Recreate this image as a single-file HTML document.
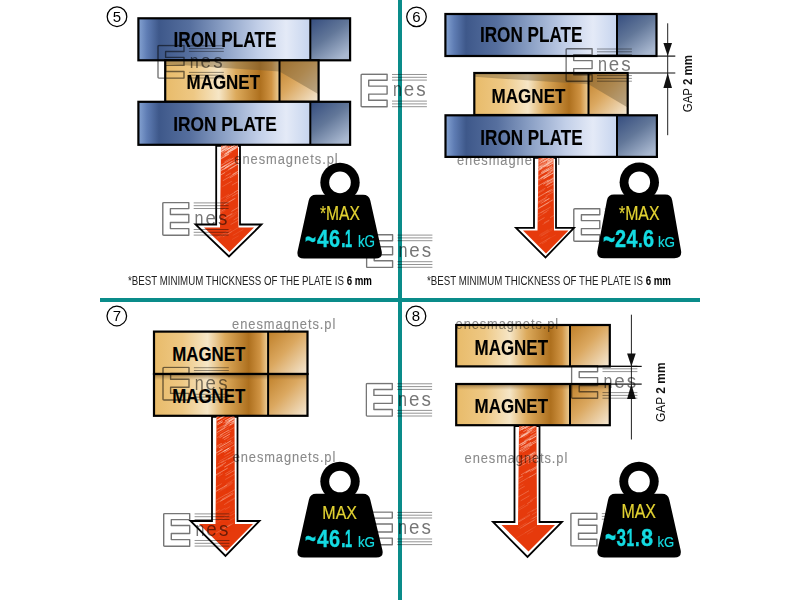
<!DOCTYPE html><html><head><meta charset="utf-8"><style>html,body{margin:0;padding:0;background:#fff;}svg{display:block;}</style></head><body>
<svg width="800" height="600" viewBox="0 0 800 600" font-family='"Liberation Sans", sans-serif'>
<defs>
<linearGradient id="ipL" x1="0" y1="0" x2="1" y2="0">
 <stop offset="0" stop-color="#85a3d2"/>
 <stop offset="0.05" stop-color="#5f7db4"/>
 <stop offset="0.12" stop-color="#3e588a"/>
 <stop offset="0.30" stop-color="#566f9e"/>
 <stop offset="0.50" stop-color="#8ca1c6"/>
 <stop offset="0.70" stop-color="#c2cfe8"/>
 <stop offset="0.86" stop-color="#e4eaf7"/>
 <stop offset="1" stop-color="#c6d4ee"/>
</linearGradient>
<linearGradient id="ipR" x1="0" y1="0" x2="0.7" y2="1">
 <stop offset="0" stop-color="#344c7e"/>
 <stop offset="0.5" stop-color="#627799"/>
 <stop offset="1" stop-color="#a9b8d0"/>
</linearGradient>
<linearGradient id="mgL" x1="0" y1="0" x2="1" y2="0">
 <stop offset="0" stop-color="#e8bb6a"/>
 <stop offset="0.25" stop-color="#eec884"/>
 <stop offset="0.47" stop-color="#f6e6c6"/>
 <stop offset="0.62" stop-color="#dcaa5c"/>
 <stop offset="0.83" stop-color="#ae701e"/>
 <stop offset="0.93" stop-color="#d09444"/>
 <stop offset="1" stop-color="#eed09a"/>
</linearGradient>
<linearGradient id="mgR" x1="0" y1="0" x2="1" y2="1">
 <stop offset="0" stop-color="#bf7f28"/>
 <stop offset="0.45" stop-color="#dba860"/>
 <stop offset="1" stop-color="#f5e9d6"/>
</linearGradient>
<linearGradient id="mgR2" x1="0" y1="0" x2="1" y2="1">
 <stop offset="0" stop-color="#a8792e"/>
 <stop offset="0.5" stop-color="#b89060"/>
 <stop offset="0.51" stop-color="#e2b878"/>
 <stop offset="1" stop-color="#f8ecd8"/>
</linearGradient>
<linearGradient id="mgTop" x1="0" y1="0" x2="0" y2="1">
 <stop offset="0" stop-color="#6a4a20" stop-opacity="0.6"/>
 <stop offset="1" stop-color="#7a5a30" stop-opacity="0"/>
</linearGradient>
<pattern id="hatch" patternUnits="userSpaceOnUse" width="6" height="6" patternTransform="rotate(-28)">
 <rect width="6" height="6" fill="#e23b12"/>
 <rect y="0" width="6" height="0.9" fill="#f7b8a0" opacity="0.55"/>
</pattern>
</defs>
<rect width="800" height="600" fill="#fff"/>
<g transform="translate(457.0,165) scale(0.86,1)" style="mix-blend-mode:multiply"><text x="0" y="0" font-size="15" fill="#8a8a8a" stroke="#8a8a8a" stroke-width="0.1" textLength="120.00" lengthAdjust="spacing">enesmagnets.pl</text></g>
<g transform="translate(232.1,329.4) scale(0.86,1)" style="mix-blend-mode:multiply"><text x="0" y="0" font-size="15" fill="#8a8a8a" stroke="#8a8a8a" stroke-width="0.1" textLength="120.00" lengthAdjust="spacing">enesmagnets.pl</text></g>
<rect x="138.4" y="18.3" width="171.9" height="42.0" fill="url(#ipL)"/>
<rect x="310.3" y="18.3" width="39.80000000000001" height="42.0" fill="url(#ipR)"/>
<rect x="138.4" y="18.3" width="211.70000000000002" height="42.0" fill="none" stroke="#000" stroke-width="2.2"/>
<line x1="310.3" y1="18.3" x2="310.3" y2="60.3" stroke="#000" stroke-width="2"/>
<rect x="165.2" y="60.3" width="114.30000000000001" height="41.5" fill="url(#mgL)"/>
<rect x="279.5" y="60.3" width="39.10000000000002" height="41.5" fill="url(#mgR)"/>
<polygon points="165.2,60.3 318.6,60.3 318.6,94.33 279.5,71.505 165.2,64.035" fill="#6e5a3a" opacity="0.42"/>
<rect x="165.2" y="60.3" width="153.40000000000003" height="41.5" fill="none" stroke="#000" stroke-width="2.2"/>
<line x1="279.5" y1="60.3" x2="279.5" y2="101.8" stroke="#000" stroke-width="2"/>
<rect x="138.4" y="101.8" width="171.9" height="43.000000000000014" fill="url(#ipL)"/>
<rect x="310.3" y="101.8" width="39.80000000000001" height="43.000000000000014" fill="url(#ipR)"/>
<rect x="138.4" y="101.8" width="211.70000000000002" height="43.000000000000014" fill="none" stroke="#000" stroke-width="2.2"/>
<line x1="310.3" y1="101.8" x2="310.3" y2="144.8" stroke="#000" stroke-width="2"/>
<text x="173.54" y="46.50" font-size="21.28" font-weight="bold" fill="#000" stroke="#000" stroke-width="0.12" textLength="102.92" lengthAdjust="spacingAndGlyphs">IRON PLATE</text>
<text x="186.52" y="89.32" font-size="20.75" font-weight="bold" fill="#000" stroke="#000" stroke-width="0.12" textLength="73.48" lengthAdjust="spacingAndGlyphs">MAGNET</text>
<text x="173.30" y="130.50" font-size="20.75" font-weight="bold" fill="#000" stroke="#000" stroke-width="0.12" textLength="103.42" lengthAdjust="spacingAndGlyphs">IRON PLATE</text>
<polygon points="216.2,145.8 216.2,224.5 195.5,224.5 229,256.5 261.5,224.5 240,224.5 240,145.8" fill="#fff" stroke="#000" stroke-width="1.8" stroke-linejoin="miter"/>
<clipPath id="ac1"><polygon points="221,145.8 220,227.5 204,227.5 229.5,252 254,227.5 238.5,227.5 238.0,145.8"/></clipPath>
<polygon points="221,145.8 220,227.5 204,227.5 229.5,252 254,227.5 238.5,227.5 238.0,145.8" fill="#e63a0c"/>
<g clip-path="url(#ac1)" stroke="#ffd8c8" stroke-linecap="round"><line x1="217.3" y1="158.8" x2="228.3" y2="152.4" stroke-width="0.77" opacity="0.31"/><line x1="216.3" y1="161.1" x2="225.8" y2="155.6" stroke-width="0.72" opacity="0.29"/><line x1="217.3" y1="148.8" x2="226.0" y2="143.7" stroke-width="0.56" opacity="0.75"/><line x1="224.6" y1="154.6" x2="238.6" y2="146.4" stroke-width="0.70" opacity="0.59"/><line x1="214.3" y1="238.9" x2="227.4" y2="231.3" stroke-width="0.57" opacity="0.13"/><line x1="219.3" y1="150.8" x2="232.1" y2="143.4" stroke-width="0.79" opacity="0.40"/><line x1="221.9" y1="186.9" x2="231.9" y2="181.2" stroke-width="0.53" opacity="0.23"/><line x1="228.2" y1="152.3" x2="236.9" y2="147.2" stroke-width="0.79" opacity="0.46"/><line x1="219.3" y1="168.7" x2="231.8" y2="161.4" stroke-width="0.62" opacity="0.58"/><line x1="223.1" y1="180.6" x2="236.4" y2="172.8" stroke-width="0.64" opacity="0.53"/><line x1="217.9" y1="238.3" x2="226.5" y2="233.3" stroke-width="0.58" opacity="0.20"/><line x1="215.1" y1="171.5" x2="226.3" y2="164.9" stroke-width="0.79" opacity="0.59"/><line x1="220.1" y1="221.0" x2="231.5" y2="214.3" stroke-width="0.79" opacity="0.27"/><line x1="228.5" y1="169.4" x2="242.6" y2="161.2" stroke-width="0.83" opacity="0.47"/><line x1="227.5" y1="149.3" x2="238.5" y2="143.0" stroke-width="0.91" opacity="0.84"/><line x1="221.5" y1="156.6" x2="232.7" y2="150.1" stroke-width="0.73" opacity="0.29"/><line x1="219.7" y1="149.9" x2="224.6" y2="147.0" stroke-width="0.56" opacity="0.71"/><line x1="220.6" y1="155.4" x2="233.9" y2="147.7" stroke-width="0.72" opacity="0.33"/><line x1="230.0" y1="177.8" x2="242.7" y2="170.4" stroke-width="0.64" opacity="0.60"/><line x1="219.9" y1="165.9" x2="233.3" y2="158.1" stroke-width="0.58" opacity="0.72"/><line x1="220.9" y1="150.7" x2="227.6" y2="146.8" stroke-width="0.79" opacity="0.55"/><line x1="215.8" y1="154.8" x2="224.4" y2="149.8" stroke-width="0.78" opacity="0.48"/><line x1="228.0" y1="233.7" x2="237.6" y2="228.1" stroke-width="0.84" opacity="0.20"/><line x1="230.5" y1="149.7" x2="242.8" y2="142.5" stroke-width="0.90" opacity="0.78"/><line x1="224.7" y1="161.8" x2="230.1" y2="158.7" stroke-width="0.53" opacity="0.57"/><line x1="220.9" y1="148.0" x2="226.8" y2="144.5" stroke-width="0.53" opacity="0.49"/><line x1="220.1" y1="147.4" x2="225.5" y2="144.2" stroke-width="0.51" opacity="0.50"/><line x1="228.4" y1="219.1" x2="234.3" y2="215.7" stroke-width="0.67" opacity="0.19"/><line x1="215.7" y1="162.0" x2="228.8" y2="154.4" stroke-width="0.73" opacity="0.76"/><line x1="218.9" y1="169.3" x2="224.3" y2="166.2" stroke-width="0.63" opacity="0.40"/><line x1="220.7" y1="211.5" x2="225.3" y2="208.9" stroke-width="0.76" opacity="0.40"/><line x1="227.8" y1="149.1" x2="232.3" y2="146.5" stroke-width="0.99" opacity="0.58"/><line x1="229.4" y1="217.7" x2="236.4" y2="213.6" stroke-width="0.58" opacity="0.22"/><line x1="223.7" y1="205.2" x2="236.0" y2="198.0" stroke-width="0.61" opacity="0.27"/><line x1="231.7" y1="211.3" x2="244.8" y2="203.7" stroke-width="0.91" opacity="0.38"/><line x1="219.4" y1="199.9" x2="229.0" y2="194.3" stroke-width="0.51" opacity="0.29"/><line x1="221.7" y1="147.9" x2="228.7" y2="143.8" stroke-width="0.98" opacity="0.68"/><line x1="230.1" y1="168.8" x2="244.6" y2="160.3" stroke-width="0.68" opacity="0.70"/><line x1="221.0" y1="152.2" x2="227.4" y2="148.5" stroke-width="0.81" opacity="0.40"/><line x1="230.9" y1="224.4" x2="240.2" y2="219.1" stroke-width="0.90" opacity="0.26"/><line x1="225.4" y1="150.5" x2="239.1" y2="142.5" stroke-width="0.88" opacity="0.73"/><line x1="217.1" y1="170.8" x2="229.5" y2="163.6" stroke-width="0.90" opacity="0.40"/><line x1="223.1" y1="236.7" x2="231.5" y2="231.8" stroke-width="0.86" opacity="0.24"/><line x1="219.4" y1="150.2" x2="225.3" y2="146.8" stroke-width="0.90" opacity="0.78"/><line x1="228.1" y1="152.0" x2="242.5" y2="143.6" stroke-width="0.68" opacity="0.65"/><line x1="220.2" y1="175.3" x2="224.6" y2="172.7" stroke-width="0.82" opacity="0.65"/><line x1="232.9" y1="174.3" x2="241.7" y2="169.2" stroke-width="0.91" opacity="0.62"/><line x1="221.0" y1="152.1" x2="228.3" y2="147.8" stroke-width="0.79" opacity="0.42"/><line x1="224.9" y1="153.7" x2="230.6" y2="150.5" stroke-width="0.68" opacity="0.76"/><line x1="224.0" y1="169.4" x2="237.6" y2="161.5" stroke-width="0.96" opacity="0.45"/><line x1="225.0" y1="172.2" x2="234.7" y2="166.6" stroke-width="0.72" opacity="0.25"/><line x1="213.8" y1="152.6" x2="226.3" y2="145.3" stroke-width="0.74" opacity="0.38"/><line x1="226.5" y1="197.3" x2="234.1" y2="192.8" stroke-width="0.78" opacity="0.35"/><line x1="216.9" y1="206.4" x2="227.0" y2="200.5" stroke-width="0.64" opacity="0.24"/><line x1="224.3" y1="204.6" x2="234.4" y2="198.7" stroke-width="0.96" opacity="0.40"/><line x1="226.6" y1="167.0" x2="236.1" y2="161.4" stroke-width="0.85" opacity="0.50"/><line x1="225.2" y1="167.7" x2="234.5" y2="162.3" stroke-width="0.85" opacity="0.69"/><line x1="233.9" y1="219.8" x2="240.9" y2="215.8" stroke-width="0.97" opacity="0.26"/><line x1="219.8" y1="213.5" x2="225.3" y2="210.3" stroke-width="0.54" opacity="0.26"/><line x1="215.7" y1="154.5" x2="227.0" y2="148.0" stroke-width="0.95" opacity="0.70"/><line x1="227.7" y1="151.3" x2="238.8" y2="144.8" stroke-width="0.94" opacity="0.37"/><line x1="217.0" y1="237.6" x2="231.1" y2="229.4" stroke-width="0.74" opacity="0.15"/><line x1="232.4" y1="239.3" x2="238.4" y2="235.9" stroke-width="0.76" opacity="0.14"/><line x1="219.8" y1="158.8" x2="227.4" y2="154.4" stroke-width="0.51" opacity="0.64"/><line x1="225.9" y1="175.9" x2="230.4" y2="173.3" stroke-width="0.81" opacity="0.37"/><line x1="214.0" y1="174.6" x2="228.4" y2="166.2" stroke-width="0.99" opacity="0.59"/><line x1="222.6" y1="148.2" x2="227.3" y2="145.5" stroke-width="0.64" opacity="0.72"/><line x1="221.0" y1="151.4" x2="234.7" y2="143.4" stroke-width="0.63" opacity="0.74"/><line x1="231.9" y1="150.9" x2="242.1" y2="144.9" stroke-width="0.54" opacity="0.67"/><line x1="228.4" y1="148.6" x2="237.1" y2="143.6" stroke-width="0.97" opacity="0.34"/><line x1="232.2" y1="185.0" x2="237.4" y2="182.0" stroke-width="0.53" opacity="0.54"/><line x1="224.5" y1="217.8" x2="232.3" y2="213.3" stroke-width="0.96" opacity="0.27"/><line x1="217.5" y1="155.4" x2="227.3" y2="149.7" stroke-width="0.55" opacity="0.41"/><line x1="217.7" y1="150.1" x2="224.1" y2="146.4" stroke-width="0.65" opacity="0.46"/><line x1="220.6" y1="202.6" x2="230.1" y2="197.1" stroke-width="0.67" opacity="0.23"/><line x1="222.4" y1="147.1" x2="226.9" y2="144.5" stroke-width="0.78" opacity="0.70"/><line x1="221.8" y1="153.2" x2="235.8" y2="145.1" stroke-width="0.91" opacity="0.35"/><line x1="222.7" y1="167.1" x2="235.6" y2="159.5" stroke-width="0.75" opacity="0.44"/><line x1="234.3" y1="192.4" x2="242.1" y2="187.8" stroke-width="0.85" opacity="0.49"/><line x1="223.5" y1="186.0" x2="231.4" y2="181.4" stroke-width="0.56" opacity="0.23"/><line x1="230.2" y1="148.3" x2="237.2" y2="144.3" stroke-width="0.54" opacity="0.39"/><line x1="230.5" y1="215.4" x2="241.7" y2="208.9" stroke-width="0.62" opacity="0.21"/><line x1="225.5" y1="155.6" x2="231.5" y2="152.1" stroke-width="0.63" opacity="0.51"/><line x1="233.0" y1="235.4" x2="243.0" y2="229.6" stroke-width="0.98" opacity="0.13"/><line x1="224.4" y1="156.0" x2="228.8" y2="153.5" stroke-width="0.74" opacity="0.47"/><line x1="219.0" y1="172.2" x2="228.5" y2="166.7" stroke-width="0.63" opacity="0.25"/><line x1="225.0" y1="147.9" x2="229.8" y2="145.2" stroke-width="0.65" opacity="0.31"/><line x1="226.0" y1="153.7" x2="235.7" y2="148.0" stroke-width="0.83" opacity="0.68"/><line x1="232.1" y1="196.3" x2="240.4" y2="191.4" stroke-width="0.99" opacity="0.30"/><line x1="227.9" y1="151.1" x2="238.9" y2="144.7" stroke-width="0.92" opacity="0.32"/></g>
<rect x="445.4" y="14" width="171.60000000000002" height="42" fill="url(#ipL)"/>
<rect x="617" y="14" width="39.5" height="42" fill="url(#ipR)"/>
<rect x="445.4" y="14" width="211.10000000000002" height="42" fill="none" stroke="#000" stroke-width="2.2"/>
<line x1="617" y1="14" x2="617" y2="56" stroke="#000" stroke-width="2"/>
<rect x="474.3" y="73" width="114.19999999999999" height="42" fill="url(#mgL)"/>
<rect x="588.5" y="73" width="39.200000000000045" height="42" fill="url(#mgR)"/>
<polygon points="474.3,73 627.7,73 627.7,107.44 588.5,84.34 474.3,76.78" fill="#6e5a3a" opacity="0.42"/>
<rect x="474.3" y="73" width="153.40000000000003" height="42" fill="none" stroke="#000" stroke-width="2.2"/>
<line x1="588.5" y1="73" x2="588.5" y2="115" stroke="#000" stroke-width="2"/>
<rect x="445.5" y="115.3" width="171.5" height="41.60000000000001" fill="url(#ipL)"/>
<rect x="617" y="115.3" width="39.89999999999998" height="41.60000000000001" fill="url(#ipR)"/>
<rect x="445.5" y="115.3" width="211.39999999999998" height="41.60000000000001" fill="none" stroke="#000" stroke-width="2.2"/>
<line x1="617" y1="115.3" x2="617" y2="156.9" stroke="#000" stroke-width="2"/>
<text x="479.96" y="42.48" font-size="21.75" font-weight="bold" fill="#000" stroke="#000" stroke-width="0.12" textLength="102.58" lengthAdjust="spacingAndGlyphs">IRON PLATE</text>
<text x="491.60" y="103.00" font-size="20.51" font-weight="bold" fill="#000" stroke="#000" stroke-width="0.12" textLength="73.80" lengthAdjust="spacingAndGlyphs">MAGNET</text>
<text x="480.30" y="145.40" font-size="21.80" font-weight="bold" fill="#000" stroke="#000" stroke-width="0.12" textLength="102.40" lengthAdjust="spacingAndGlyphs">IRON PLATE</text>
<polygon points="534,157.9 534,227.8 516,227.8 545.5,257.5 574,227.8 556,227.8 556,157.9" fill="#fff" stroke="#000" stroke-width="1.8" stroke-linejoin="miter"/>
<clipPath id="ac2"><polygon points="538.5,157.9 537.5,230.5 523,230.5 546,253.5 568.5,230.5 554,230.5 553.5,157.9"/></clipPath>
<polygon points="538.5,157.9 537.5,230.5 523,230.5 546,253.5 568.5,230.5 554,230.5 553.5,157.9" fill="#e63a0c"/>
<g clip-path="url(#ac2)" stroke="#ffd8c8" stroke-linecap="round"><line x1="543.6" y1="162.1" x2="554.6" y2="155.7" stroke-width="0.64" opacity="0.81"/><line x1="544.1" y1="166.7" x2="555.2" y2="160.2" stroke-width="0.84" opacity="0.44"/><line x1="547.6" y1="172.8" x2="553.1" y2="169.6" stroke-width="0.95" opacity="0.37"/><line x1="535.5" y1="172.4" x2="548.1" y2="165.1" stroke-width="0.57" opacity="0.59"/><line x1="545.5" y1="185.4" x2="551.5" y2="181.9" stroke-width="0.56" opacity="0.51"/><line x1="535.7" y1="169.4" x2="542.1" y2="165.6" stroke-width="0.70" opacity="0.77"/><line x1="539.5" y1="244.0" x2="550.0" y2="237.8" stroke-width="0.84" opacity="0.21"/><line x1="541.8" y1="162.1" x2="552.6" y2="155.8" stroke-width="0.55" opacity="0.40"/><line x1="542.8" y1="224.5" x2="549.1" y2="220.8" stroke-width="0.61" opacity="0.23"/><line x1="543.1" y1="213.4" x2="548.4" y2="210.2" stroke-width="0.54" opacity="0.39"/><line x1="532.0" y1="168.0" x2="543.9" y2="161.1" stroke-width="0.76" opacity="0.34"/><line x1="539.7" y1="161.9" x2="551.1" y2="155.3" stroke-width="0.73" opacity="0.59"/><line x1="539.5" y1="180.8" x2="549.9" y2="174.8" stroke-width="0.74" opacity="0.29"/><line x1="544.8" y1="166.7" x2="558.8" y2="158.6" stroke-width="0.57" opacity="0.32"/><line x1="544.7" y1="201.1" x2="549.2" y2="198.5" stroke-width="0.97" opacity="0.43"/><line x1="538.1" y1="176.0" x2="548.3" y2="170.1" stroke-width="0.63" opacity="0.71"/><line x1="535.2" y1="168.8" x2="546.0" y2="162.5" stroke-width="0.63" opacity="0.52"/><line x1="534.3" y1="172.8" x2="541.8" y2="168.4" stroke-width="0.79" opacity="0.75"/><line x1="548.9" y1="167.0" x2="556.9" y2="162.3" stroke-width="0.52" opacity="0.41"/><line x1="537.4" y1="161.6" x2="544.1" y2="157.8" stroke-width="0.63" opacity="0.77"/><line x1="540.6" y1="167.1" x2="554.3" y2="159.1" stroke-width="0.88" opacity="0.44"/><line x1="541.5" y1="172.4" x2="552.0" y2="166.4" stroke-width="0.88" opacity="0.73"/><line x1="547.3" y1="182.1" x2="555.4" y2="177.4" stroke-width="0.98" opacity="0.41"/><line x1="546.5" y1="185.3" x2="554.0" y2="180.9" stroke-width="0.81" opacity="0.62"/><line x1="548.3" y1="165.7" x2="557.5" y2="160.4" stroke-width="0.63" opacity="0.46"/><line x1="535.1" y1="162.1" x2="546.5" y2="155.5" stroke-width="0.63" opacity="0.37"/><line x1="542.4" y1="177.2" x2="550.6" y2="172.4" stroke-width="0.63" opacity="0.62"/><line x1="541.7" y1="171.0" x2="547.3" y2="167.8" stroke-width="0.57" opacity="0.38"/><line x1="534.3" y1="205.7" x2="545.5" y2="199.2" stroke-width="0.82" opacity="0.26"/><line x1="536.4" y1="198.4" x2="550.3" y2="190.3" stroke-width="0.78" opacity="0.45"/><line x1="540.7" y1="160.1" x2="547.7" y2="156.0" stroke-width="0.97" opacity="0.56"/><line x1="532.9" y1="224.3" x2="544.2" y2="217.8" stroke-width="0.77" opacity="0.36"/><line x1="547.5" y1="161.2" x2="556.2" y2="156.2" stroke-width="0.94" opacity="0.83"/><line x1="550.4" y1="217.5" x2="555.4" y2="214.6" stroke-width="0.65" opacity="0.36"/><line x1="538.6" y1="162.5" x2="548.9" y2="156.4" stroke-width="0.72" opacity="0.30"/><line x1="540.8" y1="212.8" x2="550.5" y2="207.1" stroke-width="0.99" opacity="0.25"/><line x1="543.3" y1="166.3" x2="554.2" y2="159.9" stroke-width="1.00" opacity="0.29"/><line x1="546.9" y1="166.6" x2="560.8" y2="158.6" stroke-width="0.93" opacity="0.76"/><line x1="540.9" y1="173.6" x2="548.8" y2="169.0" stroke-width="0.51" opacity="0.72"/><line x1="547.0" y1="163.2" x2="559.6" y2="155.8" stroke-width="0.98" opacity="0.68"/><line x1="546.8" y1="183.7" x2="555.7" y2="178.5" stroke-width="0.53" opacity="0.63"/><line x1="540.8" y1="177.8" x2="553.3" y2="170.5" stroke-width="0.84" opacity="0.46"/><line x1="541.2" y1="239.0" x2="547.6" y2="235.3" stroke-width="0.93" opacity="0.09"/><line x1="539.1" y1="179.9" x2="548.7" y2="174.3" stroke-width="0.61" opacity="0.30"/><line x1="535.1" y1="166.4" x2="548.3" y2="158.8" stroke-width="0.55" opacity="0.42"/><line x1="544.4" y1="222.8" x2="549.0" y2="220.1" stroke-width="0.84" opacity="0.29"/><line x1="545.9" y1="196.1" x2="554.6" y2="191.1" stroke-width="0.87" opacity="0.29"/><line x1="546.0" y1="192.8" x2="552.2" y2="189.2" stroke-width="0.85" opacity="0.36"/><line x1="542.9" y1="173.1" x2="552.0" y2="167.7" stroke-width="0.67" opacity="0.64"/><line x1="547.4" y1="181.1" x2="554.9" y2="176.7" stroke-width="0.82" opacity="0.32"/><line x1="548.1" y1="161.5" x2="555.2" y2="157.3" stroke-width="0.77" opacity="0.79"/><line x1="540.4" y1="163.2" x2="551.8" y2="156.6" stroke-width="0.82" opacity="0.56"/><line x1="550.3" y1="171.2" x2="556.4" y2="167.6" stroke-width="0.51" opacity="0.66"/><line x1="535.8" y1="181.3" x2="541.4" y2="178.0" stroke-width="0.95" opacity="0.50"/><line x1="539.5" y1="168.7" x2="548.8" y2="163.3" stroke-width="0.68" opacity="0.59"/><line x1="546.6" y1="171.3" x2="556.6" y2="165.4" stroke-width="0.91" opacity="0.45"/><line x1="542.4" y1="243.6" x2="546.9" y2="241.0" stroke-width="0.95" opacity="0.12"/><line x1="534.5" y1="164.0" x2="547.0" y2="156.8" stroke-width="0.92" opacity="0.35"/><line x1="538.7" y1="165.3" x2="549.1" y2="159.2" stroke-width="0.89" opacity="0.35"/><line x1="544.1" y1="177.7" x2="556.3" y2="170.6" stroke-width="0.91" opacity="0.29"/><line x1="536.3" y1="217.9" x2="546.7" y2="211.9" stroke-width="0.77" opacity="0.20"/><line x1="538.8" y1="208.6" x2="548.6" y2="202.9" stroke-width="0.93" opacity="0.21"/><line x1="548.6" y1="192.6" x2="553.8" y2="189.6" stroke-width="0.55" opacity="0.50"/><line x1="534.5" y1="188.1" x2="548.1" y2="180.1" stroke-width="0.74" opacity="0.28"/><line x1="541.4" y1="178.1" x2="546.4" y2="175.2" stroke-width="0.99" opacity="0.56"/><line x1="548.4" y1="171.2" x2="556.2" y2="166.7" stroke-width="0.73" opacity="0.41"/><line x1="544.9" y1="241.1" x2="555.8" y2="234.8" stroke-width="0.73" opacity="0.09"/><line x1="534.4" y1="160.3" x2="542.6" y2="155.5" stroke-width="0.55" opacity="0.43"/><line x1="543.5" y1="184.1" x2="557.3" y2="176.0" stroke-width="0.71" opacity="0.65"/><line x1="549.1" y1="163.1" x2="557.7" y2="158.1" stroke-width="0.91" opacity="0.48"/><line x1="547.4" y1="187.6" x2="559.0" y2="180.9" stroke-width="0.58" opacity="0.63"/><line x1="540.7" y1="236.5" x2="552.2" y2="229.8" stroke-width="0.62" opacity="0.15"/><line x1="533.2" y1="169.5" x2="547.4" y2="161.2" stroke-width="0.62" opacity="0.34"/><line x1="537.6" y1="193.7" x2="544.1" y2="190.0" stroke-width="0.62" opacity="0.31"/><line x1="544.2" y1="161.1" x2="555.3" y2="154.7" stroke-width="0.95" opacity="0.47"/><line x1="534.0" y1="188.5" x2="548.3" y2="180.2" stroke-width="0.90" opacity="0.33"/><line x1="531.0" y1="218.1" x2="544.1" y2="210.5" stroke-width="0.75" opacity="0.27"/><line x1="541.6" y1="235.6" x2="548.3" y2="231.6" stroke-width="0.94" opacity="0.11"/><line x1="543.8" y1="178.6" x2="554.7" y2="172.2" stroke-width="0.97" opacity="0.71"/><line x1="539.0" y1="236.0" x2="552.7" y2="228.0" stroke-width="0.56" opacity="0.16"/><line x1="530.8" y1="196.7" x2="545.1" y2="188.3" stroke-width="0.71" opacity="0.33"/><line x1="537.9" y1="167.9" x2="547.8" y2="162.2" stroke-width="0.51" opacity="0.69"/><line x1="534.5" y1="172.0" x2="548.7" y2="163.7" stroke-width="0.72" opacity="0.49"/><line x1="539.8" y1="234.6" x2="548.0" y2="229.8" stroke-width="0.62" opacity="0.18"/><line x1="537.5" y1="202.6" x2="547.0" y2="197.0" stroke-width="0.88" opacity="0.39"/><line x1="538.4" y1="208.3" x2="552.5" y2="200.1" stroke-width="0.97" opacity="0.48"/><line x1="541.0" y1="203.4" x2="549.0" y2="198.7" stroke-width="0.74" opacity="0.48"/><line x1="539.9" y1="207.6" x2="547.9" y2="202.9" stroke-width="0.87" opacity="0.18"/><line x1="539.8" y1="168.4" x2="551.5" y2="161.6" stroke-width="0.97" opacity="0.71"/><line x1="534.4" y1="199.2" x2="548.3" y2="191.1" stroke-width="0.71" opacity="0.22"/></g>
<line x1="657" y1="56.1" x2="675.3" y2="56.1" stroke="#111" stroke-width="1.2"/>
<line x1="628.5" y1="73" x2="675.3" y2="73" stroke="#111" stroke-width="1.2"/>
<line x1="667.7" y1="23.3" x2="667.7" y2="135.2" stroke="#222" stroke-width="1"/>
<polygon points="663.4000000000001,43.1 672.0,43.1 667.7,56.1" fill="#111"/>
<polygon points="663.4000000000001,88 672.0,88 667.7,73" fill="#111"/>
<text transform="translate(692,112.3) rotate(-90)" x="0" y="0" font-size="13.5" fill="#111" textLength="57.3" lengthAdjust="spacingAndGlyphs">GAP <tspan font-weight="bold">2 mm</tspan></text>
<rect x="154" y="331.6" width="114.10000000000002" height="42.39999999999998" fill="url(#mgL)"/>
<rect x="268.1" y="331.6" width="39.39999999999998" height="42.39999999999998" fill="url(#mgR)"/>
<rect x="154" y="331.6" width="153.5" height="42.39999999999998" fill="none" stroke="#000" stroke-width="2.2"/>
<line x1="268.1" y1="331.6" x2="268.1" y2="374" stroke="#000" stroke-width="2"/>
<rect x="154" y="374" width="114.10000000000002" height="41.80000000000001" fill="url(#mgL)"/>
<rect x="268.1" y="374" width="39.39999999999998" height="41.80000000000001" fill="url(#mgR)"/>
<rect x="154" y="374" width="153.5" height="6" fill="url(#mgTop)"/>
<rect x="154" y="374" width="153.5" height="41.80000000000001" fill="none" stroke="#000" stroke-width="2.2"/>
<line x1="268.1" y1="374" x2="268.1" y2="415.8" stroke="#000" stroke-width="2"/>
<text x="172.20" y="361.32" font-size="20.35" font-weight="bold" fill="#000" stroke="#000" stroke-width="0.12" textLength="73.12" lengthAdjust="spacingAndGlyphs">MAGNET</text>
<text x="172.20" y="403.32" font-size="21.01" font-weight="bold" fill="#000" stroke="#000" stroke-width="0.12" textLength="73.12" lengthAdjust="spacingAndGlyphs">MAGNET</text>
<polygon points="212,416.8 212,521 190.5,521 225.5,556 259.5,521 237.5,521 237.5,416.8" fill="#fff" stroke="#000" stroke-width="1.8" stroke-linejoin="miter"/>
<clipPath id="ac3"><polygon points="216.5,416.8 215.5,524 199,524 226.5,551 253,524 235,524 234.5,416.8"/></clipPath>
<polygon points="216.5,416.8 215.5,524 199,524 226.5,551 253,524 235,524 234.5,416.8" fill="#e63a0c"/>
<g clip-path="url(#ac3)" stroke="#ffd8c8" stroke-linecap="round"><line x1="223.5" y1="423.2" x2="234.4" y2="416.9" stroke-width="0.61" opacity="0.55"/><line x1="226.5" y1="494.5" x2="236.0" y2="488.9" stroke-width="0.62" opacity="0.31"/><line x1="217.6" y1="419.8" x2="227.9" y2="413.8" stroke-width="0.90" opacity="0.34"/><line x1="217.7" y1="424.6" x2="222.4" y2="421.9" stroke-width="0.87" opacity="0.81"/><line x1="225.2" y1="509.4" x2="229.8" y2="506.7" stroke-width="0.75" opacity="0.20"/><line x1="230.0" y1="420.8" x2="238.1" y2="416.0" stroke-width="0.91" opacity="0.38"/><line x1="229.1" y1="421.3" x2="238.1" y2="416.0" stroke-width="0.67" opacity="0.60"/><line x1="216.8" y1="446.2" x2="221.5" y2="443.4" stroke-width="0.62" opacity="0.64"/><line x1="212.4" y1="493.5" x2="226.7" y2="485.2" stroke-width="0.88" opacity="0.43"/><line x1="220.9" y1="489.6" x2="232.7" y2="482.7" stroke-width="0.74" opacity="0.21"/><line x1="212.5" y1="502.3" x2="226.3" y2="494.3" stroke-width="0.70" opacity="0.38"/><line x1="220.2" y1="435.1" x2="228.4" y2="430.3" stroke-width="0.69" opacity="0.76"/><line x1="211.5" y1="420.3" x2="223.2" y2="413.5" stroke-width="0.75" opacity="0.85"/><line x1="220.2" y1="449.1" x2="232.2" y2="442.1" stroke-width="0.80" opacity="0.35"/><line x1="224.6" y1="455.5" x2="230.7" y2="451.9" stroke-width="0.67" opacity="0.30"/><line x1="217.0" y1="522.3" x2="227.5" y2="516.2" stroke-width="0.55" opacity="0.17"/><line x1="225.2" y1="420.9" x2="237.5" y2="413.7" stroke-width="0.84" opacity="0.50"/><line x1="225.9" y1="475.4" x2="240.1" y2="467.1" stroke-width="0.99" opacity="0.34"/><line x1="220.3" y1="530.9" x2="233.7" y2="523.1" stroke-width="0.69" opacity="0.17"/><line x1="229.6" y1="425.8" x2="235.6" y2="422.3" stroke-width="0.90" opacity="0.32"/><line x1="218.5" y1="492.0" x2="231.4" y2="484.4" stroke-width="0.63" opacity="0.18"/><line x1="220.7" y1="428.6" x2="226.7" y2="425.1" stroke-width="0.67" opacity="0.32"/><line x1="228.7" y1="516.7" x2="240.7" y2="509.7" stroke-width="0.63" opacity="0.22"/><line x1="219.8" y1="529.8" x2="231.7" y2="523.0" stroke-width="0.61" opacity="0.10"/><line x1="224.3" y1="504.5" x2="237.7" y2="496.7" stroke-width="0.71" opacity="0.30"/><line x1="228.3" y1="459.2" x2="235.8" y2="454.9" stroke-width="0.64" opacity="0.44"/><line x1="210.0" y1="490.5" x2="221.4" y2="483.8" stroke-width="0.51" opacity="0.46"/><line x1="221.5" y1="462.6" x2="234.6" y2="455.0" stroke-width="0.63" opacity="0.46"/><line x1="227.4" y1="440.4" x2="241.0" y2="432.4" stroke-width="0.55" opacity="0.33"/><line x1="211.5" y1="420.4" x2="220.4" y2="415.3" stroke-width="0.93" opacity="0.37"/><line x1="213.0" y1="470.9" x2="222.9" y2="465.1" stroke-width="0.75" opacity="0.32"/><line x1="215.6" y1="424.4" x2="221.8" y2="420.7" stroke-width="0.85" opacity="0.49"/><line x1="210.6" y1="456.2" x2="222.2" y2="449.5" stroke-width="0.89" opacity="0.60"/><line x1="211.1" y1="494.0" x2="220.2" y2="488.7" stroke-width="0.88" opacity="0.18"/><line x1="225.9" y1="422.5" x2="232.8" y2="418.5" stroke-width="0.66" opacity="0.67"/><line x1="219.3" y1="419.2" x2="226.8" y2="414.8" stroke-width="0.65" opacity="0.79"/><line x1="219.2" y1="451.1" x2="233.3" y2="442.9" stroke-width="0.80" opacity="0.29"/><line x1="222.7" y1="451.7" x2="237.0" y2="443.4" stroke-width="0.85" opacity="0.38"/><line x1="224.0" y1="451.2" x2="228.9" y2="448.3" stroke-width="0.99" opacity="0.59"/><line x1="214.4" y1="436.1" x2="229.0" y2="427.6" stroke-width="0.54" opacity="0.33"/><line x1="225.3" y1="421.0" x2="237.5" y2="413.9" stroke-width="0.81" opacity="0.54"/><line x1="223.6" y1="419.4" x2="232.5" y2="414.3" stroke-width="0.69" opacity="0.58"/><line x1="217.5" y1="437.4" x2="222.3" y2="434.6" stroke-width="0.62" opacity="0.47"/><line x1="225.6" y1="479.3" x2="237.3" y2="472.5" stroke-width="0.62" opacity="0.35"/><line x1="219.6" y1="437.7" x2="230.4" y2="431.4" stroke-width="0.54" opacity="0.74"/><line x1="219.2" y1="447.6" x2="230.9" y2="440.8" stroke-width="0.89" opacity="0.65"/><line x1="224.7" y1="466.9" x2="235.9" y2="460.4" stroke-width="0.85" opacity="0.54"/><line x1="213.4" y1="476.4" x2="227.2" y2="468.4" stroke-width="0.81" opacity="0.33"/><line x1="227.0" y1="502.1" x2="241.5" y2="493.7" stroke-width="0.66" opacity="0.15"/><line x1="220.2" y1="430.1" x2="226.0" y2="426.7" stroke-width="0.54" opacity="0.56"/><line x1="227.9" y1="431.2" x2="239.9" y2="424.2" stroke-width="0.55" opacity="0.52"/><line x1="226.0" y1="527.6" x2="232.4" y2="523.9" stroke-width="0.82" opacity="0.15"/><line x1="213.5" y1="476.3" x2="227.6" y2="468.1" stroke-width="0.63" opacity="0.31"/><line x1="212.8" y1="505.3" x2="224.2" y2="498.7" stroke-width="0.80" opacity="0.19"/><line x1="215.9" y1="430.0" x2="229.9" y2="421.9" stroke-width="0.72" opacity="0.52"/><line x1="217.9" y1="464.0" x2="224.0" y2="460.4" stroke-width="0.64" opacity="0.37"/><line x1="231.9" y1="422.4" x2="236.6" y2="419.7" stroke-width="0.97" opacity="0.73"/><line x1="211.1" y1="478.7" x2="220.6" y2="473.2" stroke-width="0.80" opacity="0.20"/><line x1="218.0" y1="476.5" x2="222.4" y2="474.0" stroke-width="0.55" opacity="0.38"/><line x1="217.6" y1="432.1" x2="231.1" y2="424.2" stroke-width="0.57" opacity="0.47"/><line x1="226.7" y1="494.4" x2="236.4" y2="488.7" stroke-width="0.59" opacity="0.17"/><line x1="223.0" y1="438.1" x2="229.6" y2="434.2" stroke-width="0.92" opacity="0.65"/><line x1="230.5" y1="520.1" x2="235.0" y2="517.5" stroke-width="0.54" opacity="0.22"/><line x1="224.0" y1="516.8" x2="236.1" y2="509.8" stroke-width="0.53" opacity="0.16"/><line x1="222.0" y1="499.1" x2="232.7" y2="492.9" stroke-width="0.90" opacity="0.28"/><line x1="216.8" y1="432.7" x2="224.7" y2="428.1" stroke-width="0.81" opacity="0.42"/><line x1="214.4" y1="512.7" x2="219.4" y2="509.8" stroke-width="0.84" opacity="0.24"/><line x1="218.3" y1="422.5" x2="223.2" y2="419.7" stroke-width="0.75" opacity="0.31"/><line x1="225.3" y1="473.8" x2="231.2" y2="470.3" stroke-width="0.97" opacity="0.23"/><line x1="217.7" y1="454.7" x2="229.2" y2="448.1" stroke-width="0.76" opacity="0.55"/><line x1="228.4" y1="419.4" x2="234.9" y2="415.6" stroke-width="0.68" opacity="0.32"/><line x1="224.7" y1="452.4" x2="230.8" y2="448.8" stroke-width="0.75" opacity="0.54"/><line x1="225.8" y1="423.6" x2="238.4" y2="416.3" stroke-width="0.84" opacity="0.78"/><line x1="223.9" y1="426.4" x2="237.5" y2="418.5" stroke-width="0.95" opacity="0.57"/><line x1="216.1" y1="533.1" x2="230.1" y2="524.9" stroke-width="0.90" opacity="0.24"/><line x1="217.0" y1="419.9" x2="227.7" y2="413.7" stroke-width="0.88" opacity="0.63"/><line x1="211.7" y1="470.7" x2="225.6" y2="462.6" stroke-width="0.94" opacity="0.41"/><line x1="229.9" y1="424.8" x2="240.0" y2="419.0" stroke-width="0.87" opacity="0.70"/><line x1="220.0" y1="511.2" x2="225.1" y2="508.2" stroke-width="0.59" opacity="0.22"/><line x1="227.4" y1="453.9" x2="235.4" y2="449.2" stroke-width="0.51" opacity="0.29"/><line x1="224.5" y1="439.5" x2="229.1" y2="436.8" stroke-width="0.61" opacity="0.58"/><line x1="228.7" y1="421.0" x2="238.4" y2="415.3" stroke-width="0.76" opacity="0.79"/><line x1="215.8" y1="421.1" x2="224.5" y2="416.1" stroke-width="0.89" opacity="0.65"/><line x1="224.7" y1="486.1" x2="231.6" y2="482.1" stroke-width="0.69" opacity="0.31"/><line x1="215.8" y1="448.2" x2="225.6" y2="442.5" stroke-width="0.52" opacity="0.45"/><line x1="220.6" y1="501.2" x2="233.2" y2="493.9" stroke-width="0.87" opacity="0.35"/><line x1="218.7" y1="536.9" x2="227.0" y2="532.0" stroke-width="0.83" opacity="0.08"/><line x1="219.4" y1="461.3" x2="234.0" y2="452.9" stroke-width="0.61" opacity="0.30"/><line x1="226.7" y1="483.7" x2="236.0" y2="478.3" stroke-width="0.69" opacity="0.20"/><line x1="220.7" y1="500.8" x2="229.8" y2="495.6" stroke-width="0.81" opacity="0.25"/></g>
<rect x="456.2" y="325" width="113.80000000000001" height="41.39999999999998" fill="url(#mgL)"/>
<rect x="570" y="325" width="39.799999999999955" height="41.39999999999998" fill="url(#mgR)"/>
<rect x="456.2" y="325" width="153.59999999999997" height="41.39999999999998" fill="none" stroke="#000" stroke-width="2.2"/>
<line x1="570" y1="325" x2="570" y2="366.4" stroke="#000" stroke-width="2"/>
<rect x="456.2" y="384" width="113.80000000000001" height="41.19999999999999" fill="url(#mgL)"/>
<rect x="570" y="384" width="39.799999999999955" height="41.19999999999999" fill="url(#mgR)"/>
<rect x="456.2" y="384" width="153.59999999999997" height="6" fill="url(#mgTop)"/>
<rect x="456.2" y="384" width="153.59999999999997" height="41.19999999999999" fill="none" stroke="#000" stroke-width="2.2"/>
<line x1="570" y1="384" x2="570" y2="425.2" stroke="#000" stroke-width="2"/>
<text x="474.52" y="354.50" font-size="21.17" font-weight="bold" fill="#000" stroke="#000" stroke-width="0.12" textLength="73.48" lengthAdjust="spacingAndGlyphs">MAGNET</text>
<text x="474.52" y="413.16" font-size="20.75" font-weight="bold" fill="#000" stroke="#000" stroke-width="0.12" textLength="73.48" lengthAdjust="spacingAndGlyphs">MAGNET</text>
<polygon points="514.5,426.2 514.5,522 493,522 527.5,557 562,522 539.5,522 539.5,426.2" fill="#fff" stroke="#000" stroke-width="1.8" stroke-linejoin="miter"/>
<clipPath id="ac4"><polygon points="519,426.2 518,525 501.5,525 528.5,551.5 555,525 537,525 536.5,426.2"/></clipPath>
<polygon points="519,426.2 518,525 501.5,525 528.5,551.5 555,525 537,525 536.5,426.2" fill="#e63a0c"/>
<g clip-path="url(#ac4)" stroke="#ffd8c8" stroke-linecap="round"><line x1="515.3" y1="430.7" x2="525.7" y2="424.6" stroke-width="0.57" opacity="0.39"/><line x1="522.7" y1="452.0" x2="529.2" y2="448.2" stroke-width="0.92" opacity="0.43"/><line x1="519.3" y1="429.4" x2="523.9" y2="426.8" stroke-width="0.55" opacity="0.43"/><line x1="516.7" y1="537.9" x2="531.2" y2="529.4" stroke-width="0.95" opacity="0.10"/><line x1="525.6" y1="457.9" x2="536.7" y2="451.4" stroke-width="0.62" opacity="0.36"/><line x1="518.3" y1="478.6" x2="522.7" y2="476.1" stroke-width="0.82" opacity="0.47"/><line x1="521.0" y1="437.7" x2="534.7" y2="429.7" stroke-width="0.56" opacity="0.43"/><line x1="517.1" y1="447.8" x2="525.2" y2="443.1" stroke-width="0.88" opacity="0.28"/><line x1="521.0" y1="500.6" x2="529.2" y2="495.9" stroke-width="0.98" opacity="0.23"/><line x1="527.5" y1="513.3" x2="533.6" y2="509.8" stroke-width="0.88" opacity="0.17"/><line x1="526.8" y1="432.7" x2="535.4" y2="427.7" stroke-width="0.60" opacity="0.31"/><line x1="518.5" y1="521.9" x2="529.8" y2="515.4" stroke-width="0.70" opacity="0.27"/><line x1="528.4" y1="457.2" x2="540.2" y2="450.4" stroke-width="0.77" opacity="0.48"/><line x1="520.5" y1="451.7" x2="531.7" y2="445.2" stroke-width="0.93" opacity="0.37"/><line x1="515.3" y1="439.9" x2="529.5" y2="431.7" stroke-width="0.70" opacity="0.29"/><line x1="519.9" y1="463.8" x2="532.8" y2="456.3" stroke-width="0.75" opacity="0.52"/><line x1="532.7" y1="428.5" x2="540.7" y2="423.9" stroke-width="0.61" opacity="0.50"/><line x1="517.1" y1="432.1" x2="522.8" y2="428.8" stroke-width="0.65" opacity="0.65"/><line x1="527.9" y1="456.6" x2="532.9" y2="453.6" stroke-width="0.60" opacity="0.58"/><line x1="530.4" y1="500.6" x2="539.3" y2="495.4" stroke-width="0.75" opacity="0.24"/><line x1="530.8" y1="519.4" x2="542.4" y2="512.6" stroke-width="0.70" opacity="0.20"/><line x1="518.0" y1="483.7" x2="530.5" y2="476.4" stroke-width="0.79" opacity="0.31"/><line x1="521.5" y1="459.9" x2="534.5" y2="452.4" stroke-width="0.89" opacity="0.63"/><line x1="521.4" y1="474.6" x2="529.7" y2="469.7" stroke-width="0.92" opacity="0.38"/><line x1="516.3" y1="488.2" x2="523.1" y2="484.2" stroke-width="0.65" opacity="0.20"/><line x1="527.6" y1="503.4" x2="532.2" y2="500.7" stroke-width="0.81" opacity="0.35"/><line x1="516.3" y1="452.6" x2="520.8" y2="450.0" stroke-width="0.94" opacity="0.28"/><line x1="512.8" y1="448.4" x2="525.4" y2="441.0" stroke-width="0.67" opacity="0.49"/><line x1="519.6" y1="444.7" x2="524.3" y2="442.0" stroke-width="0.94" opacity="0.65"/><line x1="522.3" y1="443.7" x2="535.6" y2="436.0" stroke-width="1.00" opacity="0.28"/><line x1="522.6" y1="429.1" x2="527.6" y2="426.2" stroke-width="0.58" opacity="0.41"/><line x1="521.1" y1="436.6" x2="532.0" y2="430.3" stroke-width="0.87" opacity="0.54"/><line x1="518.2" y1="527.6" x2="526.2" y2="522.9" stroke-width="0.60" opacity="0.20"/><line x1="529.0" y1="429.1" x2="538.6" y2="423.6" stroke-width="0.82" opacity="0.50"/><line x1="522.1" y1="436.4" x2="528.0" y2="433.0" stroke-width="0.66" opacity="0.50"/><line x1="528.4" y1="463.3" x2="540.8" y2="456.1" stroke-width="0.79" opacity="0.51"/><line x1="514.1" y1="512.8" x2="528.2" y2="504.6" stroke-width="0.94" opacity="0.17"/><line x1="524.2" y1="457.5" x2="538.6" y2="449.1" stroke-width="0.66" opacity="0.26"/><line x1="520.5" y1="429.9" x2="527.4" y2="425.9" stroke-width="0.92" opacity="0.66"/><line x1="523.0" y1="435.2" x2="528.5" y2="432.0" stroke-width="0.58" opacity="0.33"/><line x1="530.3" y1="428.8" x2="537.6" y2="424.5" stroke-width="0.88" opacity="0.67"/><line x1="521.3" y1="435.8" x2="532.0" y2="429.5" stroke-width="0.81" opacity="0.53"/><line x1="527.1" y1="431.1" x2="541.6" y2="422.6" stroke-width="0.90" opacity="0.83"/><line x1="519.4" y1="466.8" x2="524.8" y2="463.7" stroke-width="0.60" opacity="0.40"/><line x1="532.2" y1="470.2" x2="539.3" y2="466.0" stroke-width="0.61" opacity="0.45"/><line x1="525.1" y1="532.7" x2="535.6" y2="526.6" stroke-width="0.62" opacity="0.17"/><line x1="520.1" y1="528.4" x2="534.3" y2="520.1" stroke-width="0.95" opacity="0.24"/><line x1="525.0" y1="440.8" x2="535.5" y2="434.7" stroke-width="0.93" opacity="0.31"/><line x1="523.8" y1="437.2" x2="528.2" y2="434.6" stroke-width="0.55" opacity="0.48"/><line x1="530.6" y1="436.5" x2="536.8" y2="432.9" stroke-width="0.65" opacity="0.66"/><line x1="530.1" y1="471.7" x2="537.0" y2="467.8" stroke-width="0.97" opacity="0.27"/><line x1="529.3" y1="440.1" x2="536.3" y2="436.1" stroke-width="0.96" opacity="0.77"/><line x1="530.8" y1="433.6" x2="537.1" y2="430.0" stroke-width="0.52" opacity="0.73"/><line x1="511.6" y1="442.6" x2="524.7" y2="434.9" stroke-width="0.78" opacity="0.42"/><line x1="517.2" y1="497.5" x2="528.7" y2="490.9" stroke-width="0.79" opacity="0.36"/><line x1="519.8" y1="437.9" x2="529.8" y2="432.0" stroke-width="0.56" opacity="0.70"/><line x1="516.0" y1="482.5" x2="523.0" y2="478.5" stroke-width="0.55" opacity="0.21"/><line x1="529.7" y1="477.1" x2="543.0" y2="469.3" stroke-width="0.99" opacity="0.41"/><line x1="521.5" y1="427.5" x2="526.0" y2="424.9" stroke-width="0.96" opacity="0.61"/><line x1="524.5" y1="440.4" x2="531.9" y2="436.1" stroke-width="0.55" opacity="0.45"/><line x1="525.9" y1="472.7" x2="539.0" y2="465.1" stroke-width="0.84" opacity="0.54"/><line x1="528.6" y1="461.0" x2="540.0" y2="454.4" stroke-width="0.78" opacity="0.54"/><line x1="523.4" y1="526.0" x2="536.7" y2="518.3" stroke-width="0.59" opacity="0.21"/><line x1="532.3" y1="459.0" x2="537.4" y2="455.9" stroke-width="0.82" opacity="0.66"/><line x1="520.2" y1="450.6" x2="530.2" y2="444.8" stroke-width="0.77" opacity="0.65"/><line x1="522.5" y1="429.2" x2="527.9" y2="426.0" stroke-width="0.92" opacity="0.68"/><line x1="529.7" y1="445.7" x2="543.3" y2="437.9" stroke-width="0.86" opacity="0.67"/><line x1="516.5" y1="429.0" x2="521.9" y2="425.9" stroke-width="0.84" opacity="0.38"/><line x1="531.9" y1="511.2" x2="541.4" y2="505.7" stroke-width="0.62" opacity="0.30"/><line x1="524.1" y1="447.4" x2="538.2" y2="439.2" stroke-width="0.84" opacity="0.61"/><line x1="517.4" y1="490.4" x2="524.4" y2="486.4" stroke-width="1.00" opacity="0.22"/><line x1="518.6" y1="435.9" x2="523.1" y2="433.4" stroke-width="0.66" opacity="0.42"/><line x1="520.7" y1="436.0" x2="526.1" y2="432.8" stroke-width="0.56" opacity="0.33"/><line x1="524.4" y1="460.2" x2="536.8" y2="453.0" stroke-width="0.51" opacity="0.49"/><line x1="525.2" y1="428.5" x2="533.1" y2="424.0" stroke-width="0.81" opacity="0.83"/><line x1="519.0" y1="521.7" x2="524.7" y2="518.4" stroke-width="0.99" opacity="0.14"/><line x1="523.2" y1="464.7" x2="534.5" y2="458.2" stroke-width="0.73" opacity="0.28"/><line x1="516.7" y1="462.6" x2="522.7" y2="459.2" stroke-width="0.68" opacity="0.26"/><line x1="512.6" y1="429.9" x2="525.1" y2="422.6" stroke-width="0.55" opacity="0.74"/><line x1="515.3" y1="510.3" x2="524.5" y2="504.9" stroke-width="0.58" opacity="0.23"/><line x1="521.1" y1="445.5" x2="526.1" y2="442.6" stroke-width="0.89" opacity="0.66"/><line x1="524.7" y1="441.8" x2="530.5" y2="438.4" stroke-width="0.92" opacity="0.65"/><line x1="520.9" y1="448.2" x2="530.8" y2="442.5" stroke-width="0.98" opacity="0.57"/><line x1="532.8" y1="518.5" x2="540.6" y2="514.0" stroke-width="0.72" opacity="0.30"/><line x1="521.5" y1="436.9" x2="527.2" y2="433.6" stroke-width="0.99" opacity="0.31"/><line x1="517.3" y1="521.6" x2="529.9" y2="514.3" stroke-width="0.92" opacity="0.14"/><line x1="523.7" y1="431.5" x2="529.2" y2="428.2" stroke-width="0.61" opacity="0.81"/><line x1="527.3" y1="534.2" x2="532.9" y2="530.9" stroke-width="0.75" opacity="0.13"/><line x1="532.3" y1="514.5" x2="539.8" y2="510.1" stroke-width="0.79" opacity="0.23"/><line x1="518.6" y1="429.4" x2="529.2" y2="423.2" stroke-width="0.53" opacity="0.78"/></g>
<line x1="610" y1="366.4" x2="641.7" y2="366.4" stroke="#111" stroke-width="1.2"/>
<line x1="610" y1="384.1" x2="641.7" y2="384.1" stroke="#111" stroke-width="1.2"/>
<line x1="631.4" y1="314.7" x2="631.4" y2="439.5" stroke="#222" stroke-width="1"/>
<polygon points="627.1,353.4 635.6999999999999,353.4 631.4,366.4" fill="#111"/>
<polygon points="627.1,399.1 635.6999999999999,399.1 631.4,384.1" fill="#111"/>
<text transform="translate(664.5,422) rotate(-90)" x="0" y="0" font-size="13.5" fill="#111" textLength="59.5" lengthAdjust="spacingAndGlyphs">GAP <tspan font-weight="bold">2 mm</tspan></text>
<rect x="398" y="0" width="4" height="600" fill="#0a8c8a"/>
<rect x="100" y="298" width="600" height="4" fill="#0a8c8a"/>
<g transform="translate(234.29999999999998,163.6) scale(0.86,1)" style="mix-blend-mode:multiply"><text x="0" y="0" font-size="15" fill="#8a8a8a" stroke="#8a8a8a" stroke-width="0.1" textLength="120.23" lengthAdjust="spacing">enesmagnets.pl</text></g>
<g transform="translate(455.59999999999997,328.9) scale(0.86,1)" style="mix-blend-mode:multiply"><text x="0" y="0" font-size="15" fill="#8a8a8a" stroke="#8a8a8a" stroke-width="0.1" textLength="119.19" lengthAdjust="spacing">enesmagnets.pl</text></g>
<g transform="translate(232.7,462) scale(0.86,1)" style="mix-blend-mode:multiply"><text x="0" y="0" font-size="15" fill="#8a8a8a" stroke="#8a8a8a" stroke-width="0.1" textLength="119.30" lengthAdjust="spacing">enesmagnets.pl</text></g>
<g transform="translate(464.59999999999997,462.75) scale(0.86,1)" style="mix-blend-mode:multiply"><text x="0" y="0" font-size="15" fill="#8a8a8a" stroke="#8a8a8a" stroke-width="0.1" textLength="119.42" lengthAdjust="spacing">enesmagnets.pl</text></g>
<g transform="translate(158.0,45.5)" style="mix-blend-mode:multiply"><path d="M1,0 H26.0 V6.0 H7.6 V11.9 H26.0 V19.9 H7.6 V26.0 H26.0 V32.6 H1 Q0,32.6 0,31.6 V1 Q0,0 1,0 Z" fill="none" stroke="#767676" stroke-width="1.4" stroke-linejoin="round"/><line x1="30.9" y1="0.3" x2="65.8" y2="0.3" stroke="#888" stroke-width="0.9"/><line x1="30.9" y1="3.1" x2="65.8" y2="3.1" stroke="#888" stroke-width="0.9"/><line x1="30.9" y1="5.9" x2="65.8" y2="5.9" stroke="#888" stroke-width="0.9"/><line x1="30.9" y1="26.9" x2="65.8" y2="26.9" stroke="#888" stroke-width="0.9"/><line x1="30.9" y1="29.7" x2="65.8" y2="29.7" stroke="#888" stroke-width="0.9"/><line x1="30.9" y1="32.5" x2="65.8" y2="32.5" stroke="#888" stroke-width="0.9"/><text x="31.8" y="22.3" font-size="21" fill="#767676" textLength="9" lengthAdjust="spacingAndGlyphs">n</text><text x="42.6" y="22.3" font-size="21" fill="#767676" textLength="10.4" lengthAdjust="spacingAndGlyphs">e</text><text x="55.2" y="22.3" font-size="21" fill="#767676" textLength="9.4" lengthAdjust="spacingAndGlyphs">s</text></g>
<g transform="translate(361.09999999999997,74.2)" style="mix-blend-mode:multiply"><path d="M1,0 H26.0 V6.0 H7.6 V11.9 H26.0 V19.9 H7.6 V26.0 H26.0 V32.6 H1 Q0,32.6 0,31.6 V1 Q0,0 1,0 Z" fill="none" stroke="#767676" stroke-width="1.4" stroke-linejoin="round"/><line x1="30.9" y1="0.3" x2="65.8" y2="0.3" stroke="#888" stroke-width="0.9"/><line x1="30.9" y1="3.1" x2="65.8" y2="3.1" stroke="#888" stroke-width="0.9"/><line x1="30.9" y1="5.9" x2="65.8" y2="5.9" stroke="#888" stroke-width="0.9"/><line x1="30.9" y1="26.9" x2="65.8" y2="26.9" stroke="#888" stroke-width="0.9"/><line x1="30.9" y1="29.7" x2="65.8" y2="29.7" stroke="#888" stroke-width="0.9"/><line x1="30.9" y1="32.5" x2="65.8" y2="32.5" stroke="#888" stroke-width="0.9"/><text x="31.8" y="22.3" font-size="21" fill="#767676" textLength="9" lengthAdjust="spacingAndGlyphs">n</text><text x="42.6" y="22.3" font-size="21" fill="#767676" textLength="10.4" lengthAdjust="spacingAndGlyphs">e</text><text x="55.2" y="22.3" font-size="21" fill="#767676" textLength="9.4" lengthAdjust="spacingAndGlyphs">s</text></g>
<g transform="translate(162.8,202.6)" style="mix-blend-mode:multiply"><path d="M1,0 H26.0 V6.0 H7.6 V11.9 H26.0 V19.9 H7.6 V26.0 H26.0 V32.6 H1 Q0,32.6 0,31.6 V1 Q0,0 1,0 Z" fill="none" stroke="#767676" stroke-width="1.4" stroke-linejoin="round"/><line x1="30.9" y1="0.3" x2="65.8" y2="0.3" stroke="#888" stroke-width="0.9"/><line x1="30.9" y1="3.1" x2="65.8" y2="3.1" stroke="#888" stroke-width="0.9"/><line x1="30.9" y1="5.9" x2="65.8" y2="5.9" stroke="#888" stroke-width="0.9"/><line x1="30.9" y1="26.9" x2="65.8" y2="26.9" stroke="#888" stroke-width="0.9"/><line x1="30.9" y1="29.7" x2="65.8" y2="29.7" stroke="#888" stroke-width="0.9"/><line x1="30.9" y1="32.5" x2="65.8" y2="32.5" stroke="#888" stroke-width="0.9"/><text x="31.8" y="22.3" font-size="21" fill="#767676" textLength="9" lengthAdjust="spacingAndGlyphs">n</text><text x="42.6" y="22.3" font-size="21" fill="#767676" textLength="10.4" lengthAdjust="spacingAndGlyphs">e</text><text x="55.2" y="22.3" font-size="21" fill="#767676" textLength="9.4" lengthAdjust="spacingAndGlyphs">s</text></g>
<g transform="translate(366.59999999999997,234.8)" style="mix-blend-mode:multiply"><path d="M1,0 H26.0 V6.0 H7.6 V11.9 H26.0 V19.9 H7.6 V26.0 H26.0 V32.6 H1 Q0,32.6 0,31.6 V1 Q0,0 1,0 Z" fill="none" stroke="#767676" stroke-width="1.4" stroke-linejoin="round"/><line x1="30.9" y1="0.3" x2="65.8" y2="0.3" stroke="#888" stroke-width="0.9"/><line x1="30.9" y1="3.1" x2="65.8" y2="3.1" stroke="#888" stroke-width="0.9"/><line x1="30.9" y1="5.9" x2="65.8" y2="5.9" stroke="#888" stroke-width="0.9"/><line x1="30.9" y1="26.9" x2="65.8" y2="26.9" stroke="#888" stroke-width="0.9"/><line x1="30.9" y1="29.7" x2="65.8" y2="29.7" stroke="#888" stroke-width="0.9"/><line x1="30.9" y1="32.5" x2="65.8" y2="32.5" stroke="#888" stroke-width="0.9"/><text x="31.8" y="22.3" font-size="21" fill="#767676" textLength="9" lengthAdjust="spacingAndGlyphs">n</text><text x="42.6" y="22.3" font-size="21" fill="#767676" textLength="10.4" lengthAdjust="spacingAndGlyphs">e</text><text x="55.2" y="22.3" font-size="21" fill="#767676" textLength="9.4" lengthAdjust="spacingAndGlyphs">s</text></g>
<g transform="translate(566.1,48.7)" style="mix-blend-mode:multiply"><path d="M1,0 H26.0 V6.0 H7.6 V11.9 H26.0 V19.9 H7.6 V26.0 H26.0 V32.6 H1 Q0,32.6 0,31.6 V1 Q0,0 1,0 Z" fill="none" stroke="#767676" stroke-width="1.4" stroke-linejoin="round"/><line x1="30.9" y1="0.3" x2="65.8" y2="0.3" stroke="#888" stroke-width="0.9"/><line x1="30.9" y1="3.1" x2="65.8" y2="3.1" stroke="#888" stroke-width="0.9"/><line x1="30.9" y1="5.9" x2="65.8" y2="5.9" stroke="#888" stroke-width="0.9"/><line x1="30.9" y1="26.9" x2="65.8" y2="26.9" stroke="#888" stroke-width="0.9"/><line x1="30.9" y1="29.7" x2="65.8" y2="29.7" stroke="#888" stroke-width="0.9"/><line x1="30.9" y1="32.5" x2="65.8" y2="32.5" stroke="#888" stroke-width="0.9"/><text x="31.8" y="22.3" font-size="21" fill="#767676" textLength="9" lengthAdjust="spacingAndGlyphs">n</text><text x="42.6" y="22.3" font-size="21" fill="#767676" textLength="10.4" lengthAdjust="spacingAndGlyphs">e</text><text x="55.2" y="22.3" font-size="21" fill="#767676" textLength="9.4" lengthAdjust="spacingAndGlyphs">s</text></g>
<g transform="translate(573.8,208.7)" style="mix-blend-mode:multiply"><path d="M1,0 H26.0 V6.0 H7.6 V11.9 H26.0 V19.9 H7.6 V26.0 H26.0 V32.6 H1 Q0,32.6 0,31.6 V1 Q0,0 1,0 Z" fill="none" stroke="#767676" stroke-width="1.4" stroke-linejoin="round"/><line x1="30.9" y1="0.3" x2="65.8" y2="0.3" stroke="#888" stroke-width="0.9"/><line x1="30.9" y1="3.1" x2="65.8" y2="3.1" stroke="#888" stroke-width="0.9"/><line x1="30.9" y1="5.9" x2="65.8" y2="5.9" stroke="#888" stroke-width="0.9"/><line x1="30.9" y1="26.9" x2="65.8" y2="26.9" stroke="#888" stroke-width="0.9"/><line x1="30.9" y1="29.7" x2="65.8" y2="29.7" stroke="#888" stroke-width="0.9"/><line x1="30.9" y1="32.5" x2="65.8" y2="32.5" stroke="#888" stroke-width="0.9"/><text x="31.8" y="22.3" font-size="21" fill="#767676" textLength="9" lengthAdjust="spacingAndGlyphs">n</text><text x="42.6" y="22.3" font-size="21" fill="#767676" textLength="10.4" lengthAdjust="spacingAndGlyphs">e</text><text x="55.2" y="22.3" font-size="21" fill="#767676" textLength="9.4" lengthAdjust="spacingAndGlyphs">s</text></g>
<g transform="translate(163.0,367.4)" style="mix-blend-mode:multiply"><path d="M1,0 H26.0 V6.0 H7.6 V11.9 H26.0 V19.9 H7.6 V26.0 H26.0 V32.6 H1 Q0,32.6 0,31.6 V1 Q0,0 1,0 Z" fill="none" stroke="#767676" stroke-width="1.4" stroke-linejoin="round"/><line x1="30.9" y1="0.3" x2="65.8" y2="0.3" stroke="#888" stroke-width="0.9"/><line x1="30.9" y1="3.1" x2="65.8" y2="3.1" stroke="#888" stroke-width="0.9"/><line x1="30.9" y1="5.9" x2="65.8" y2="5.9" stroke="#888" stroke-width="0.9"/><line x1="30.9" y1="26.9" x2="65.8" y2="26.9" stroke="#888" stroke-width="0.9"/><line x1="30.9" y1="29.7" x2="65.8" y2="29.7" stroke="#888" stroke-width="0.9"/><line x1="30.9" y1="32.5" x2="65.8" y2="32.5" stroke="#888" stroke-width="0.9"/><text x="31.8" y="22.3" font-size="21" fill="#767676" textLength="9" lengthAdjust="spacingAndGlyphs">n</text><text x="42.6" y="22.3" font-size="21" fill="#767676" textLength="10.4" lengthAdjust="spacingAndGlyphs">e</text><text x="55.2" y="22.3" font-size="21" fill="#767676" textLength="9.4" lengthAdjust="spacingAndGlyphs">s</text></g>
<g transform="translate(366.29999999999995,383.5)" style="mix-blend-mode:multiply"><path d="M1,0 H26.0 V6.0 H7.6 V11.9 H26.0 V19.9 H7.6 V26.0 H26.0 V32.6 H1 Q0,32.6 0,31.6 V1 Q0,0 1,0 Z" fill="none" stroke="#767676" stroke-width="1.4" stroke-linejoin="round"/><line x1="30.9" y1="0.3" x2="65.8" y2="0.3" stroke="#888" stroke-width="0.9"/><line x1="30.9" y1="3.1" x2="65.8" y2="3.1" stroke="#888" stroke-width="0.9"/><line x1="30.9" y1="5.9" x2="65.8" y2="5.9" stroke="#888" stroke-width="0.9"/><line x1="30.9" y1="26.9" x2="65.8" y2="26.9" stroke="#888" stroke-width="0.9"/><line x1="30.9" y1="29.7" x2="65.8" y2="29.7" stroke="#888" stroke-width="0.9"/><line x1="30.9" y1="32.5" x2="65.8" y2="32.5" stroke="#888" stroke-width="0.9"/><text x="31.8" y="22.3" font-size="21" fill="#767676" textLength="9" lengthAdjust="spacingAndGlyphs">n</text><text x="42.6" y="22.3" font-size="21" fill="#767676" textLength="10.4" lengthAdjust="spacingAndGlyphs">e</text><text x="55.2" y="22.3" font-size="21" fill="#767676" textLength="9.4" lengthAdjust="spacingAndGlyphs">s</text></g>
<g transform="translate(163.70000000000002,513.6)" style="mix-blend-mode:multiply"><path d="M1,0 H26.0 V6.0 H7.6 V11.9 H26.0 V19.9 H7.6 V26.0 H26.0 V32.6 H1 Q0,32.6 0,31.6 V1 Q0,0 1,0 Z" fill="none" stroke="#767676" stroke-width="1.4" stroke-linejoin="round"/><line x1="30.9" y1="0.3" x2="65.8" y2="0.3" stroke="#888" stroke-width="0.9"/><line x1="30.9" y1="3.1" x2="65.8" y2="3.1" stroke="#888" stroke-width="0.9"/><line x1="30.9" y1="5.9" x2="65.8" y2="5.9" stroke="#888" stroke-width="0.9"/><line x1="30.9" y1="26.9" x2="65.8" y2="26.9" stroke="#888" stroke-width="0.9"/><line x1="30.9" y1="29.7" x2="65.8" y2="29.7" stroke="#888" stroke-width="0.9"/><line x1="30.9" y1="32.5" x2="65.8" y2="32.5" stroke="#888" stroke-width="0.9"/><text x="31.8" y="22.3" font-size="21" fill="#767676" textLength="9" lengthAdjust="spacingAndGlyphs">n</text><text x="42.6" y="22.3" font-size="21" fill="#767676" textLength="10.4" lengthAdjust="spacingAndGlyphs">e</text><text x="55.2" y="22.3" font-size="21" fill="#767676" textLength="9.4" lengthAdjust="spacingAndGlyphs">s</text></g>
<g transform="translate(366.29999999999995,512.1)" style="mix-blend-mode:multiply"><path d="M1,0 H26.0 V6.0 H7.6 V11.9 H26.0 V19.9 H7.6 V26.0 H26.0 V32.6 H1 Q0,32.6 0,31.6 V1 Q0,0 1,0 Z" fill="none" stroke="#767676" stroke-width="1.4" stroke-linejoin="round"/><line x1="30.9" y1="0.3" x2="65.8" y2="0.3" stroke="#888" stroke-width="0.9"/><line x1="30.9" y1="3.1" x2="65.8" y2="3.1" stroke="#888" stroke-width="0.9"/><line x1="30.9" y1="5.9" x2="65.8" y2="5.9" stroke="#888" stroke-width="0.9"/><line x1="30.9" y1="26.9" x2="65.8" y2="26.9" stroke="#888" stroke-width="0.9"/><line x1="30.9" y1="29.7" x2="65.8" y2="29.7" stroke="#888" stroke-width="0.9"/><line x1="30.9" y1="32.5" x2="65.8" y2="32.5" stroke="#888" stroke-width="0.9"/><text x="31.8" y="22.3" font-size="21" fill="#767676" textLength="9" lengthAdjust="spacingAndGlyphs">n</text><text x="42.6" y="22.3" font-size="21" fill="#767676" textLength="10.4" lengthAdjust="spacingAndGlyphs">e</text><text x="55.2" y="22.3" font-size="21" fill="#767676" textLength="9.4" lengthAdjust="spacingAndGlyphs">s</text></g>
<g transform="translate(571.6,365.7)" style="mix-blend-mode:multiply"><path d="M1,0 H26.0 V6.0 H7.6 V11.9 H26.0 V19.9 H7.6 V26.0 H26.0 V32.6 H1 Q0,32.6 0,31.6 V1 Q0,0 1,0 Z" fill="none" stroke="#767676" stroke-width="1.4" stroke-linejoin="round"/><line x1="30.9" y1="0.3" x2="65.8" y2="0.3" stroke="#888" stroke-width="0.9"/><line x1="30.9" y1="3.1" x2="65.8" y2="3.1" stroke="#888" stroke-width="0.9"/><line x1="30.9" y1="5.9" x2="65.8" y2="5.9" stroke="#888" stroke-width="0.9"/><line x1="30.9" y1="26.9" x2="65.8" y2="26.9" stroke="#888" stroke-width="0.9"/><line x1="30.9" y1="29.7" x2="65.8" y2="29.7" stroke="#888" stroke-width="0.9"/><line x1="30.9" y1="32.5" x2="65.8" y2="32.5" stroke="#888" stroke-width="0.9"/><text x="31.8" y="22.3" font-size="21" fill="#767676" textLength="9" lengthAdjust="spacingAndGlyphs">n</text><text x="42.6" y="22.3" font-size="21" fill="#767676" textLength="10.4" lengthAdjust="spacingAndGlyphs">e</text><text x="55.2" y="22.3" font-size="21" fill="#767676" textLength="9.4" lengthAdjust="spacingAndGlyphs">s</text></g>
<g transform="translate(570.9,513.3)" style="mix-blend-mode:multiply"><path d="M1,0 H26.0 V6.0 H7.6 V11.9 H26.0 V19.9 H7.6 V26.0 H26.0 V32.6 H1 Q0,32.6 0,31.6 V1 Q0,0 1,0 Z" fill="none" stroke="#767676" stroke-width="1.4" stroke-linejoin="round"/><line x1="30.9" y1="0.3" x2="65.8" y2="0.3" stroke="#888" stroke-width="0.9"/><line x1="30.9" y1="3.1" x2="65.8" y2="3.1" stroke="#888" stroke-width="0.9"/><line x1="30.9" y1="5.9" x2="65.8" y2="5.9" stroke="#888" stroke-width="0.9"/><line x1="30.9" y1="26.9" x2="65.8" y2="26.9" stroke="#888" stroke-width="0.9"/><line x1="30.9" y1="29.7" x2="65.8" y2="29.7" stroke="#888" stroke-width="0.9"/><line x1="30.9" y1="32.5" x2="65.8" y2="32.5" stroke="#888" stroke-width="0.9"/><text x="31.8" y="22.3" font-size="21" fill="#767676" textLength="9" lengthAdjust="spacingAndGlyphs">n</text><text x="42.6" y="22.3" font-size="21" fill="#767676" textLength="10.4" lengthAdjust="spacingAndGlyphs">e</text><text x="55.2" y="22.3" font-size="21" fill="#767676" textLength="9.4" lengthAdjust="spacingAndGlyphs">s</text></g>
<circle cx="340" cy="182.4" r="19.7" fill="#000"/>
<circle cx="340" cy="182.4" r="10.8" fill="#fff"/>
<path d="M316.00,194.70 L363.00,194.70 Q369.00,194.70 370.31,200.55 L381.55,250.69 Q383.30,258.50 375.30,258.50 L304.00,258.50 Q296.00,258.50 297.71,250.69 L308.71,200.56 Q310.00,194.70 316.00,194.70 Z" fill="#000"/>
<text x="320.00" y="219.70" font-size="19.38" font-weight="normal" fill="#e2d232" stroke="#e2d232" stroke-width="0.2" textLength="40.00" lengthAdjust="spacingAndGlyphs">*MAX</text>
<text x="305.00" y="250.50" font-size="34.15" font-weight="bold" fill="#14dbe2" stroke="#14dbe2" stroke-width="0.35" textLength="11.00" lengthAdjust="spacingAndGlyphs">~</text>
<text x="317.00" y="247.18" font-size="24.58" font-weight="bold" fill="#14dbe2" stroke="#14dbe2" stroke-width="0.35" textLength="11.50" lengthAdjust="spacingAndGlyphs">4</text>
<text x="328.90" y="247.18" font-size="24.58" font-weight="bold" fill="#14dbe2" stroke="#14dbe2" stroke-width="0.35" textLength="11.10" lengthAdjust="spacingAndGlyphs">6</text>
<text x="340.90" y="247.18" font-size="26.23" font-weight="bold" fill="#14dbe2" stroke="#14dbe2" stroke-width="0.35" textLength="4.70" lengthAdjust="spacingAndGlyphs">.</text>
<text x="344.90" y="247.18" font-size="24.58" font-weight="bold" fill="#14dbe2" stroke="#14dbe2" stroke-width="0.35" textLength="7.10" lengthAdjust="spacingAndGlyphs">1</text>
<text x="357.90" y="247.30" font-size="15.74" font-weight="normal" fill="#14dbe2" stroke="#14dbe2" stroke-width="0.2" textLength="17.20" lengthAdjust="spacingAndGlyphs">kG</text>
<circle cx="639.3" cy="182.2" r="19.7" fill="#000"/>
<circle cx="639.3" cy="182.2" r="10.8" fill="#fff"/>
<path d="M614.00,194.60 L665.20,194.60 Q671.20,194.60 672.24,200.51 L681.01,250.42 Q682.40,258.30 674.40,258.30 L604.00,258.30 Q596.00,258.30 597.48,250.44 L606.89,200.50 Q608.00,194.60 614.00,194.60 Z" fill="#000"/>
<text x="619.00" y="219.70" font-size="19.38" font-weight="normal" fill="#e2d232" stroke="#e2d232" stroke-width="0.2" textLength="40.50" lengthAdjust="spacingAndGlyphs">*MAX</text>
<text x="602.90" y="250.50" font-size="34.15" font-weight="bold" fill="#14dbe2" stroke="#14dbe2" stroke-width="0.35" textLength="12.20" lengthAdjust="spacingAndGlyphs">~</text>
<text x="614.90" y="247.18" font-size="23.00" font-weight="bold" fill="#14dbe2" stroke="#14dbe2" stroke-width="0.35" textLength="11.10" lengthAdjust="spacingAndGlyphs">2</text>
<text x="626.50" y="247.18" font-size="23.00" font-weight="bold" fill="#14dbe2" stroke="#14dbe2" stroke-width="0.35" textLength="11.00" lengthAdjust="spacingAndGlyphs">4</text>
<text x="637.90" y="247.18" font-size="26.23" font-weight="bold" fill="#14dbe2" stroke="#14dbe2" stroke-width="0.35" textLength="4.70" lengthAdjust="spacingAndGlyphs">.</text>
<text x="643.00" y="247.18" font-size="23.00" font-weight="bold" fill="#14dbe2" stroke="#14dbe2" stroke-width="0.35" textLength="11.10" lengthAdjust="spacingAndGlyphs">6</text>
<text x="657.90" y="247.30" font-size="15.18" font-weight="normal" fill="#14dbe2" stroke="#14dbe2" stroke-width="0.2" textLength="17.20" lengthAdjust="spacingAndGlyphs">kG</text>
<circle cx="340" cy="481.5" r="19.7" fill="#000"/>
<circle cx="340" cy="481.5" r="10.8" fill="#fff"/>
<path d="M316.20,493.80 L362.90,493.80 Q368.90,493.80 370.30,499.63 L382.33,549.72 Q384.20,557.50 376.20,557.50 L304.00,557.50 Q296.00,557.50 297.74,549.69 L308.89,499.66 Q310.20,493.80 316.20,493.80 Z" fill="#000"/>
<text x="322.30" y="518.50" font-size="18.92" font-weight="normal" fill="#e2d232" stroke="#e2d232" stroke-width="0.2" textLength="34.70" lengthAdjust="spacingAndGlyphs">MAX</text>
<text x="305.00" y="549.40" font-size="31.67" font-weight="bold" fill="#14dbe2" stroke="#14dbe2" stroke-width="0.35" textLength="11.00" lengthAdjust="spacingAndGlyphs">~</text>
<text x="317.00" y="546.68" font-size="24.76" font-weight="bold" fill="#14dbe2" stroke="#14dbe2" stroke-width="0.35" textLength="11.50" lengthAdjust="spacingAndGlyphs">4</text>
<text x="328.90" y="546.68" font-size="24.76" font-weight="bold" fill="#14dbe2" stroke="#14dbe2" stroke-width="0.35" textLength="11.10" lengthAdjust="spacingAndGlyphs">6</text>
<text x="340.90" y="546.68" font-size="25.02" font-weight="bold" fill="#14dbe2" stroke="#14dbe2" stroke-width="0.35" textLength="4.70" lengthAdjust="spacingAndGlyphs">.</text>
<text x="344.90" y="546.68" font-size="24.76" font-weight="bold" fill="#14dbe2" stroke="#14dbe2" stroke-width="0.35" textLength="7.10" lengthAdjust="spacingAndGlyphs">1</text>
<text x="357.90" y="546.80" font-size="15.18" font-weight="normal" fill="#14dbe2" stroke="#14dbe2" stroke-width="0.2" textLength="17.20" lengthAdjust="spacingAndGlyphs">kG</text>
<circle cx="639" cy="481.5" r="19.7" fill="#000"/>
<circle cx="639" cy="481.5" r="10.8" fill="#fff"/>
<path d="M615.30,493.80 L662.00,493.80 Q668.00,493.80 669.31,499.65 L680.55,549.69 Q682.30,557.50 674.30,557.50 L604.00,557.50 Q596.00,557.50 597.64,549.67 L608.07,499.67 Q609.30,493.80 615.30,493.80 Z" fill="#000"/>
<text x="621.40" y="518.40" font-size="19.38" font-weight="normal" fill="#e2d232" stroke="#e2d232" stroke-width="0.2" textLength="34.60" lengthAdjust="spacingAndGlyphs">MAX</text>
<text x="605.00" y="550.00" font-size="38.43" font-weight="bold" fill="#14dbe2" stroke="#14dbe2" stroke-width="0.35" textLength="11.00" lengthAdjust="spacingAndGlyphs">~</text>
<text x="616.50" y="546.36" font-size="24.58" font-weight="bold" fill="#14dbe2" stroke="#14dbe2" stroke-width="0.35" textLength="9.50" lengthAdjust="spacingAndGlyphs">3</text>
<text x="626.40" y="546.36" font-size="24.58" font-weight="bold" fill="#14dbe2" stroke="#14dbe2" stroke-width="0.35" textLength="7.60" lengthAdjust="spacingAndGlyphs">1</text>
<text x="634.90" y="546.36" font-size="25.02" font-weight="bold" fill="#14dbe2" stroke="#14dbe2" stroke-width="0.35" textLength="4.70" lengthAdjust="spacingAndGlyphs">.</text>
<text x="641.00" y="546.36" font-size="24.58" font-weight="bold" fill="#14dbe2" stroke="#14dbe2" stroke-width="0.35" textLength="12.10" lengthAdjust="spacingAndGlyphs">8</text>
<text x="657.40" y="546.60" font-size="15.18" font-weight="normal" fill="#14dbe2" stroke="#14dbe2" stroke-width="0.2" textLength="16.70" lengthAdjust="spacingAndGlyphs">kG</text>
<text x="128" y="284.5" font-size="12" fill="#222" textLength="244" lengthAdjust="spacingAndGlyphs">*BEST MINIMUM THICKNESS OF THE PLATE IS <tspan font-weight="bold" fill="#000">6 mm</tspan></text>
<text x="427" y="284.6" font-size="12" fill="#222" textLength="244" lengthAdjust="spacingAndGlyphs">*BEST MINIMUM THICKNESS OF THE PLATE IS <tspan font-weight="bold" fill="#000">6 mm</tspan></text>
<circle cx="117" cy="16.7" r="9.8" fill="none" stroke="#000" stroke-width="1.25"/>
<text x="117" y="22.0" font-size="15" text-anchor="middle" fill="#000">5</text>
<circle cx="416.5" cy="16.8" r="9.8" fill="none" stroke="#000" stroke-width="1.25"/>
<text x="416.5" y="22.1" font-size="15" text-anchor="middle" fill="#000">6</text>
<circle cx="116.8" cy="316" r="9.8" fill="none" stroke="#000" stroke-width="1.25"/>
<text x="116.8" y="321.3" font-size="15" text-anchor="middle" fill="#000">7</text>
<circle cx="416" cy="316" r="9.8" fill="none" stroke="#000" stroke-width="1.25"/>
<text x="416" y="321.3" font-size="15" text-anchor="middle" fill="#000">8</text>
</svg></body></html>
